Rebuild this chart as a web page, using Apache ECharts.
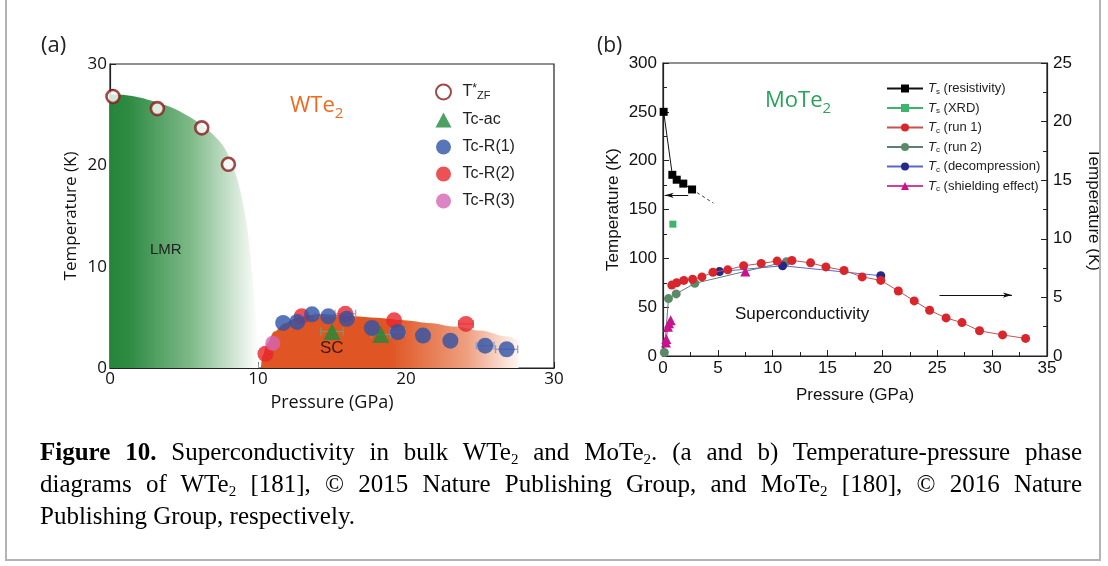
<!DOCTYPE html>
<html>
<head>
<meta charset="utf-8">
<script src="https://cdn.jsdelivr.net/npm/echarts@6/dist/echarts.min.js"></script>
<style>
  html, body { margin: 0; padding: 0; background: #fff; }
  #wrap { position: relative; width: 1108px; height: 566px; overflow: hidden; }
  #chart { position: absolute; left: 0; top: 0; width: 1108px; height: 566px; }
  #frame { position: absolute; left: 5px; top: -4px; width: 1096px; height: 565px;
           border: 2px solid #b4b4b4; box-sizing: border-box; pointer-events: none; }
  #caption { position: absolute; left: 40px; top: 436px; width: 1042px;
             font-family: "Liberation Serif", "Times New Roman", serif; font-size: 25px;
             line-height: 32px; color: #000; }
  #caption .ln { white-space: nowrap; }
  #caption .just { text-align: justify; text-align-last: justify; }
  #caption sub { font-size: 15px; line-height: 0; vertical-align: -4px; }
</style>
</head>
<body>
<div id="wrap">
  <div id="chart"></div>
  <div id="frame"></div>
  <div id="caption">
    <div class="ln just"><b>Figure 10.</b> Superconductivity in bulk WTe<sub>2</sub> and MoTe<sub>2</sub>. (a and b) Temperature-pressure phase</div>
    <div class="ln just">diagrams of WTe<sub>2</sub> [181], © 2015 Nature Publishing Group, and MoTe<sub>2</sub> [180], © 2016 Nature</div>
    <div class="ln">Publishing Group, respectively.</div>
  </div>
</div>
<script>
// ---------- (a) WTe2: pressure (GPa) vs temperature (K) ----------
const tzfData   = [[0.2, 26.8], [3.2, 25.6], [6.2, 23.7], [8.0, 20.1]];
const tcAcData  = [[15.0, 3.6], [18.3, 3.3]];
const tcR1Data  = [[11.7, 4.45], [12.65, 4.55], [13.65, 5.3], [14.75, 5.1], [16.0, 4.85], [17.7, 3.95],
                   [19.45, 3.55], [21.15, 3.2], [23.0, 2.7], [25.35, 2.2], [26.8, 1.85]];
const tcR2Data  = [[10.5, 1.4], [12.95, 5.1], [15.9, 5.35], [19.2, 4.7], [24.05, 4.35]];
const tcR3Data  = [[11.0, 2.45]];
// horizontal error bars: [pressure, temperature, half-width]
const errR1     = [[14.75, 5.1, 0.9], [19.45, 3.55, 0.5], [25.35, 2.2, 0.6], [26.8, 1.85, 0.75]];
const errR2     = [[15.9, 5.35, 0.7], [24.05, 4.35, 0.5]];
const errAc     = [[15.0, 3.6, 0.75], [18.3, 3.3, 0.65]];
// phase boundaries
const lmrBoundary = [[0, 27], [1, 26.95], [2, 26.7], [3, 26.3], [4, 25.8], [5, 25.1], [6, 24.2], [7, 23.0],
                     [7.7, 21.8], [8.3, 20.0], [8.8, 17.5], [9.2, 14.5], [9.5, 11], [9.75, 7], [9.95, 3], [10.05, 0]];
const scBoundary  = [[10.2, 0], [10.3, 1.2], [10.6, 2.4], [11.1, 3.6], [11.8, 4.4], [12.7, 5.0], [14, 5.3],
                     [15.5, 5.25], [16.5, 5.1], [18, 4.95], [19.9, 4.7], [21.5, 4.45], [23.3, 4.1],
                     [25, 3.7], [26.9, 3.1], [27.6, 2.7]];
const aXTicks = [0, 10, 20, 30];
const aYTicks = [0, 10, 20, 30];

// ---------- (b) MoTe2 ----------
const tsResData   = [[0.06, 250], [0.85, 185.5], [1.25, 180.5], [1.85, 176.5], [2.65, 170.5]];
const tsTrend     = [[2.65, 170.5], [4.6, 156.5]];
const tsXrdData   = [[0.9, 135]];
const tcRun1Data  = [[0.8, 6.05], [1.25, 6.25], [1.9, 6.45], [2.7, 6.55], [3.55, 6.75], [4.55, 7.15],
                     [5.9, 7.35], [7.35, 7.7], [8.95, 7.9], [10.4, 8.1], [11.75, 8.15], [13.45, 7.95],
                     [14.85, 7.6], [16.5, 7.3], [18.15, 6.75], [19.85, 6.45], [21.45, 5.55], [22.9, 4.7],
                     [24.3, 3.9], [25.8, 3.25], [27.25, 2.85], [28.85, 2.15], [30.95, 1.8], [33.05, 1.5]];
const tcRun2Data  = [[0.12, 0.3], [0.5, 4.9], [1.2, 5.3], [2.9, 6.2], [11.25, 8.05]];
const tcDecompData = [[5.15, 7.2], [10.9, 7.7], [19.85, 6.85]];
const tcShieldLow  = [[0.27, 1.15], [0.3, 1.45], [0.45, 2.5], [0.55, 2.8], [0.7, 3.05]];
const tcShieldHigh = [[7.5, 7.2]];
const arrowTs = [[2.3, 164.5], [0.15, 164.5]];
const arrowTc = [[25.2, 5.2], [31.8, 5.2]];

const SANS_A = '"Open Sans", "Liberation Sans", sans-serif';
const SANS_B = '"Liberation Sans", Arial, sans-serif';
const ORANGE = '#df5523';

function errorBars(name, data, color) {
  return {
    type: 'custom', name: name, xAxisIndex: 0, yAxisIndex: 0, z: 2, silent: true,
    encode: { x: 0, y: 1 },
    data: data,
    renderItem: function (params, api) {
      const p = api.value(0), t = api.value(1), dx = api.value(2);
      const a = api.coord([p - dx, t]), b = api.coord([p + dx, t]);
      const cap = 4, st = { stroke: color, lineWidth: 1.2 };
      return { type: 'group', children: [
        { type: 'line', shape: { x1: a[0], y1: a[1], x2: b[0], y2: b[1] }, style: st },
        { type: 'line', shape: { x1: a[0], y1: a[1] - cap, x2: a[0], y2: a[1] + cap }, style: st },
        { type: 'line', shape: { x1: b[0], y1: b[1] - cap, x2: b[0], y2: b[1] + cap }, style: st }
      ]};
    }
  };
}

function axisCommon(font, size) {
  return {
    axisLine: { show: true, onZero: false, lineStyle: { color: '#222', width: 1.2 } },
    axisTick: { show: true, inside: true, length: 6, lineStyle: { color: '#222' } },
    minorTick: { show: true, splitNumber: 2, length: 4, lineStyle: { color: '#222' } },
    splitLine: { show: false },
    axisLabel: { color: '#111', fontFamily: font, fontSize: size, margin: 6 },
    nameTextStyle: { color: '#111', fontFamily: font, fontSize: size }
  };
}

const chart = echarts.init(document.getElementById('chart'));

const option = {
  animation: false,
  backgroundColor: 'transparent',
  grid: [
    { left: 110, right: 554, top: 64, bottom: 198, show: true, borderColor: '#222', borderWidth: 1.2, backgroundColor: 'transparent' },
    { left: 663, right: 61, top: 63, bottom: 210, show: true, borderColor: '#222', borderWidth: 1.2, backgroundColor: 'transparent' }
  ],
  xAxis: [
    Object.assign(axisCommon(SANS_A, 17), {
      type: 'value', gridIndex: 0, min: 0, max: 30, interval: 5,
      name: 'Pressure (GPa)', nameLocation: 'middle', nameGap: 26,
      nameTextStyle: { color: '#111', fontFamily: SANS_A, fontSize: 18 },
      axisLabel: { color: '#111', fontFamily: SANS_A, fontSize: 17, margin: 3,
        formatter: v => aXTicks.indexOf(v) >= 0 ? String(v) : '' }
    }),
    Object.assign(axisCommon(SANS_B, 17), {
      type: 'value', gridIndex: 1, min: 0, max: 35, interval: 5,
      name: 'Pressure (GPa)', nameLocation: 'middle', nameGap: 31,
      nameTextStyle: { color: '#111', fontFamily: SANS_B, fontSize: 17 },
      axisLabel: { color: '#111', fontFamily: SANS_B, fontSize: 17, margin: 4 }
    })
  ],
  yAxis: [
    Object.assign(axisCommon(SANS_A, 17), {
      type: 'value', gridIndex: 0, min: 0, max: 30, interval: 5,
      name: 'Temperature (K)', nameLocation: 'middle', nameGap: 30,
      nameTextStyle: { color: '#111', fontFamily: SANS_A, fontSize: 17 },
      axisLabel: { color: '#111', fontFamily: SANS_A, fontSize: 17, margin: 3,
        formatter: v => aYTicks.indexOf(v) >= 0 ? String(v) : '' }
    }),
    Object.assign(axisCommon(SANS_B, 17), {
      type: 'value', gridIndex: 1, min: 0, max: 300, interval: 50, position: 'left',
      name: 'Temperature (K)', nameLocation: 'middle', nameGap: 41,
      nameTextStyle: { color: '#111', fontFamily: SANS_B, fontSize: 17 },
      axisLabel: { color: '#111', fontFamily: SANS_B, fontSize: 17, margin: 6 }
    }),
    Object.assign(axisCommon(SANS_B, 17), {
      type: 'value', gridIndex: 1, min: 0, max: 25, interval: 5, position: 'right',
      name: 'Temperature (K)', nameLocation: 'middle', nameGap: 38, nameRotate: -90,
      nameTextStyle: { color: '#111', fontFamily: SANS_B, fontSize: 17 },
      axisLabel: { color: '#111', fontFamily: SANS_B, fontSize: 17, margin: 6 }
    })
  ],
  legend: [
    {
      left: 435, top: 82, padding: 0, orient: 'vertical', itemGap: 11, itemWidth: 16, itemHeight: 15,
      selectedMode: false,
      data: ['T*ZF', 'Tc-ac', 'Tc-R(1)', 'Tc-R(2)', 'Tc-R(3)'],
      formatter: function (n) { return n === 'T*ZF' ? '{a|T}{sup|*}{sub|ZF}' : '{a|' + n + '}'; },
      textStyle: {
        color: '#222', fontFamily: SANS_B, fontSize: 16, padding: [0, 0, 0, 6],
        rich: {
          a: { fontFamily: SANS_B, fontSize: 16, color: '#222', lineHeight: 18 },
          sup: { fontFamily: SANS_B, fontSize: 12, color: '#222', verticalAlign: 'top', lineHeight: 12 },
          sub: { fontFamily: SANS_B, fontSize: 11, color: '#222', verticalAlign: 'bottom', lineHeight: 6, padding: [8, 0, 0, 0] }
        }
      }
    },
    {
      left: 886, top: 82, padding: 0, orient: 'vertical', itemGap: 6, itemWidth: 36, itemHeight: 10,
      selectedMode: false,
      data: ['Ts (resistivity)', 'Ts (XRD)', 'Tc (run 1)', 'Tc (run 2)', 'Tc (decompression)', 'Tc (shielding effect)'],
      formatter: function (n) {
        const sub = n.charAt(1), rest = n.slice(2);
        return '{i|T}{s|' + sub + '}{t|' + rest + '}';
      },
      textStyle: {
        color: '#222', fontFamily: SANS_B, fontSize: 13,
        rich: {
          i: { fontFamily: SANS_B, fontSize: 13, fontStyle: 'italic', color: '#222' },
          s: { fontFamily: SANS_B, fontSize: 8, color: '#222', verticalAlign: 'bottom', padding: [6, 0, 0, 0] },
          t: { fontFamily: SANS_B, fontSize: 13, color: '#222' }
        }
      }
    }
  ],
  graphic: [
    { type: 'text', left: 41, top: 35, z: 100, style: { text: '(a)', fontFamily: SANS_A, fontSize: 22, fill: '#222' } },
    { type: 'text', left: 290, top: 95, z: 100, style: {
        text: '{a|WTe}{b|2}', fill: '#ee6a1e',
        rich: { a: { fontFamily: SANS_A, fontSize: 22, fill: '#ee6a1e', lineHeight: 30 },
                b: { fontFamily: SANS_A, fontSize: 15, fill: '#ee6a1e', verticalAlign: 'bottom', lineHeight: 15 } } } },
    { type: 'text', left: 150, top: 242, z: 100, style: { text: 'LMR', fontFamily: SANS_B, fontSize: 15, fill: '#222' } },
    { type: 'text', left: 320, top: 340, z: 100, style: { text: 'SC', fontFamily: SANS_B, fontSize: 17, fill: '#3a1a10' } },
    { type: 'text', left: 597, top: 36, z: 100, style: { text: '(b)', fontFamily: SANS_A, fontSize: 21, fill: '#222' } },
    { type: 'text', left: 765, top: 90, z: 100, style: {
        text: '{a|MoTe}{b|2}', fill: '#27a35a',
        rich: { a: { fontFamily: SANS_A, fontSize: 22, fill: '#27a35a', lineHeight: 30 },
                b: { fontFamily: SANS_A, fontSize: 15, fill: '#27a35a', verticalAlign: 'bottom', lineHeight: 15 } } } },
    { type: 'text', left: 735, top: 306, z: 100, style: { text: 'Superconductivity', fontFamily: SANS_B, fontSize: 17, fill: '#111' } }
  ],
  series: [
    // ---- (a) phase regions ----
    { type: 'line', name: 'LMR', xAxisIndex: 0, yAxisIndex: 0, z: 1, silent: true,
      data: lmrBoundary, smooth: 0.3, symbol: 'none',
      lineStyle: { width: 0 },
      areaStyle: { opacity: 1, color: new echarts.graphic.LinearGradient(0, 0, 1, 0, [
        { offset: 0, color: '#26843b' }, { offset: 0.12, color: '#2d8a42' },
        { offset: 0.55, color: '#80ba8a' }, { offset: 1, color: '#ffffff' }]) } },
    { type: 'line', name: 'SC', xAxisIndex: 0, yAxisIndex: 0, z: 1, silent: true,
      data: scBoundary, smooth: 0.35, smoothMonotone: 'x', symbol: 'none',
      lineStyle: { width: 0 },
      areaStyle: { opacity: 1, color: new echarts.graphic.LinearGradient(0, 0, 1, 0, [
        { offset: 0, color: ORANGE }, { offset: 0.5, color: ORANGE },
        { offset: 0.8, color: '#eea080' }, { offset: 1, color: '#fff6f2' }]) } },
    errorBars('errAc', errAc, '#7a9a70'),
    errorBars('errR1', errR1, '#8d9ccc'),
    errorBars('errR2', errR2, '#d88a8a'),
    // ---- (a) measurements ----
    { type: 'scatter', name: 'T*ZF', xAxisIndex: 0, yAxisIndex: 0, z: 5, data: tzfData,
      symbol: 'circle', symbolSize: 13,
      itemStyle: { color: '#ffffff', borderColor: '#8a1c1c', borderWidth: 2.6 } },
    { type: 'scatter', name: 'Tc-R(2)', xAxisIndex: 0, yAxisIndex: 0, z: 3, data: tcR2Data,
      symbol: 'circle', symbolSize: 16, itemStyle: { color: '#e8262b' } },
    { type: 'scatter', name: 'Tc-R(1)', xAxisIndex: 0, yAxisIndex: 0, z: 4, data: tcR1Data,
      symbol: 'circle', symbolSize: 16, itemStyle: { color: '#3052a8' } },
    { type: 'scatter', name: 'Tc-R(3)', xAxisIndex: 0, yAxisIndex: 0, z: 4, data: tcR3Data,
      symbol: 'circle', symbolSize: 15, itemStyle: { color: '#d565b5' } },
    { type: 'scatter', name: 'Tc-ac', xAxisIndex: 0, yAxisIndex: 0, z: 5, data: tcAcData,
      symbol: 'triangle', symbolSize: 17, itemStyle: { color: '#1e8a3a' } },

    // ---- (b) structural transition ----
    { type: 'line', name: 'Ts (resistivity)', xAxisIndex: 1, yAxisIndex: 1, z: 4, data: tsResData,
      symbol: 'rect', symbolSize: 8, itemStyle: { color: '#000' }, lineStyle: { color: '#111', width: 1 },
      markLine: { silent: true, symbol: ['none', 'arrow'], symbolSize: [4, 9], label: { show: false },
        lineStyle: { color: '#111', width: 1, type: 'solid' },
        data: [[{ coord: arrowTs[0] }, { coord: arrowTs[1] }]] } },
    { type: 'line', name: 'trend', xAxisIndex: 1, yAxisIndex: 1, z: 3, data: tsTrend, silent: true,
      symbol: 'none', lineStyle: { color: '#333', width: 1, type: [3, 3] } },
    { type: 'line', name: 'Ts (XRD)', xAxisIndex: 1, yAxisIndex: 1, z: 4, data: tsXrdData,
      symbol: 'rect', symbolSize: 7, itemStyle: { color: '#3cb46a' }, lineStyle: { color: '#3cb46a', width: 1 } },
    // ---- (b) superconducting Tc ----
    { type: 'line', name: 'Tc (run 1)', xAxisIndex: 1, yAxisIndex: 2, z: 4, data: tcRun1Data,
      symbol: 'circle', symbolSize: 9, itemStyle: { color: '#d8262c' }, lineStyle: { color: '#c8504e', width: 1 },
      markLine: { silent: true, symbol: ['none', 'arrow'], symbolSize: [4, 9], label: { show: false },
        lineStyle: { color: '#111', width: 1, type: 'solid' },
        data: [[{ coord: arrowTc[0] }, { coord: arrowTc[1] }]] } },
    { type: 'line', name: 'Tc (run 2)', xAxisIndex: 1, yAxisIndex: 2, z: 3, data: tcRun2Data,
      symbol: 'circle', symbolSize: 9, itemStyle: { color: '#5b8a68' }, lineStyle: { color: '#5b7f78', width: 1 } },
    { type: 'line', name: 'Tc (decompression)', xAxisIndex: 1, yAxisIndex: 2, z: 3, data: tcDecompData,
      symbol: 'circle', symbolSize: 9, itemStyle: { color: '#25288a' }, lineStyle: { color: '#5a68c8', width: 1 } },
    { type: 'line', name: 'Tc (shielding effect)', xAxisIndex: 1, yAxisIndex: 2, z: 5, data: tcShieldLow,
      symbol: 'triangle', symbolSize: 10, itemStyle: { color: '#c8128e' }, lineStyle: { color: '#d0409e', width: 1 } },
    { type: 'line', name: 'Tc (shielding effect)', xAxisIndex: 1, yAxisIndex: 2, z: 5, data: tcShieldHigh,
      symbol: 'triangle', symbolSize: 10, itemStyle: { color: '#c8128e' }, lineStyle: { color: '#d0409e', width: 1 } }
  ]
};

chart.setOption(option);
</script>
</body>
</html>
